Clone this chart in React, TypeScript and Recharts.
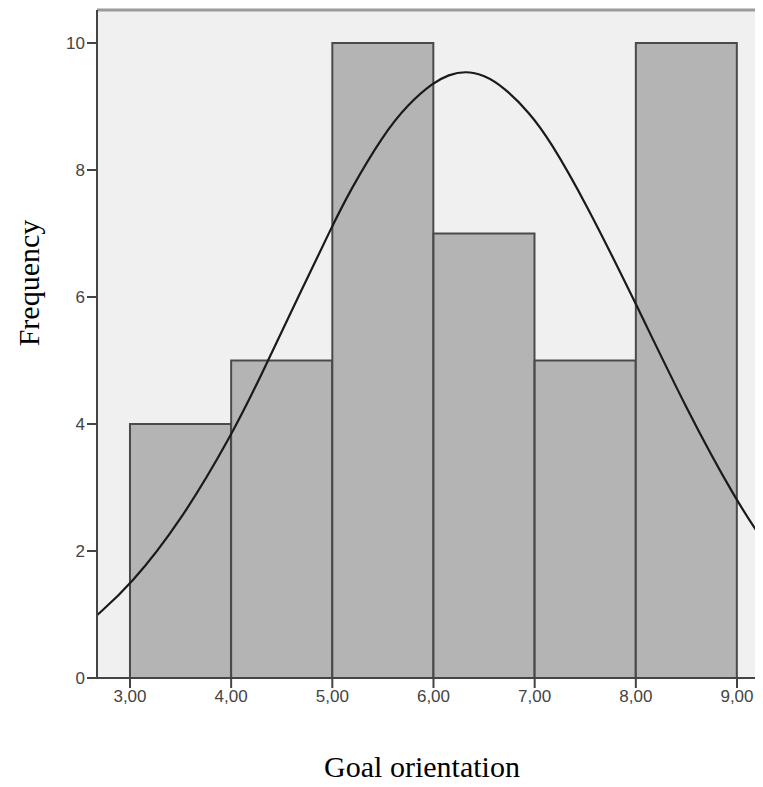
import React from "react";
import {
  ComposedChart,
  Bar,
  Line,
  XAxis,
  YAxis,
  CartesianGrid,
  ReferenceLine,
  Label,
} from "recharts";

// Histogram bins (Goal orientation)
const binStarts = [3, 4, 5, 6, 7, 8];
const binEnds = [4, 5, 6, 7, 8, 9];
const binCounts = [4, 5, 10, 7, 5, 10];

// Normal curve points
const curveX = [2.674, 3.0, 3.5, 4.0, 4.28, 4.68, 5.0, 5.17, 5.5, 5.75, 6.0, 6.15, 6.31, 6.5, 6.7, 6.95, 7.15, 7.5, 8.0, 8.5, 9.0, 9.26];
const curveY = [0.99, 1.45, 2.46, 3.81, 4.71, 6.06, 7.12, 7.66, 8.55, 9.04, 9.38, 9.5, 9.56, 9.5, 9.3, 8.9, 8.47, 7.5, 5.9, 4.23, 2.77, 2.16];

const xTicks = [3, 4, 5, 6, 7, 8, 9];
const yTicks = [0, 2, 4, 6, 8, 10];
const X_MIN = 2.674;
const X_MAX = 9.257;
const Y_MAX = 10.52;

const CHART_W = 755;
const CHART_H = 779;
const Y_AXIS_W = 89;
const PLOT_W = CHART_W - Y_AXIS_W;

const bins = binStarts.map((s, i) => ({ bin: `${s}-${binEnds[i]}`, count: binCounts[i] }));
const curve = curveX.map((x, i) => ({ x, y: curveY[i] }));

const unitPx = PLOT_W / (X_MAX - X_MIN);
const padLeft = (binStarts[0] - X_MIN) * unitPx;
const padRight = (X_MAX - binEnds[binEnds.length - 1]) * unitPx;

const fmt = (v: number) => v.toFixed(2).replace(".", ",");

export default function App() {
  return (
    <div style={{ width: CHART_W, height: CHART_H, background: "#fff" }}>
      <ComposedChart
        width={CHART_W}
        height={CHART_H}
        data={bins}
        margin={{ top: 2, right: 0, bottom: 0, left: 0 }}
        barCategoryGap={0}
        barGap={0}
      >
        <CartesianGrid fill="#f0f0f0" horizontal={false} vertical={false} stroke="none" />
        <XAxis
          xAxisId="bins"
          dataKey="bin"
          type="category"
          orientation="top"
          hide
          padding={{ left: padLeft, right: padRight }}
        />
        <XAxis
          xAxisId="num"
          dataKey="x"
          type="number"
          domain={[X_MIN, X_MAX]}
          allowDataOverflow
          ticks={xTicks}
          tickFormatter={fmt}
          height={109}
          tickSize={10}
          tickMargin={2}
          axisLine={{ stroke: "#444", strokeWidth: 2 }}
          tickLine={{ stroke: "#444", strokeWidth: 2 }}
          tick={{ fill: "#444", fontSize: 17, fontFamily: "Liberation Sans, Arial, sans-serif" }}
        >
          <Label
            value="Goal orientation"
            position="insideBottom"
            offset={10}
            dx={-8}
            style={{ fill: "#000", fontSize: 30, fontFamily: "Liberation Serif, Times New Roman, serif" }}
          />
        </XAxis>
        <YAxis
          type="number"
          domain={[0, Y_MAX]}
          allowDataOverflow
          ticks={yTicks}
          width={Y_AXIS_W}
          tickSize={10}
          tickMargin={2}
          axisLine={{ stroke: "#444", strokeWidth: 2 }}
          tickLine={{ stroke: "#444", strokeWidth: 2 }}
          tick={{ fill: "#444", fontSize: 17, fontFamily: "Liberation Sans, Arial, sans-serif" }}
        >
          <Label
            value="Frequency"
            angle={-90}
            position="insideLeft"
            offset={20}
            dy={-61}
            style={{ fill: "#000", fontSize: 30, fontFamily: "Liberation Serif, Times New Roman, serif", textAnchor: "middle" }}
          />
        </YAxis>
        <ReferenceLine xAxisId="num" y={Y_MAX} stroke="#9a9a9a" strokeWidth={3} />
        <Bar
          xAxisId="bins"
          dataKey="count"
          fill="#b4b4b4"
          stroke="#4a4a4a"
          strokeWidth={2}
          isAnimationActive={false}
        />
        <Line
          xAxisId="num"
          data={curve}
          dataKey="y"
          type="basis"
          stroke="#1a1a1a"
          strokeWidth={2.2}
          dot={false}
          activeDot={false}
          isAnimationActive={false}
        />
      </ComposedChart>
    </div>
  );
}
